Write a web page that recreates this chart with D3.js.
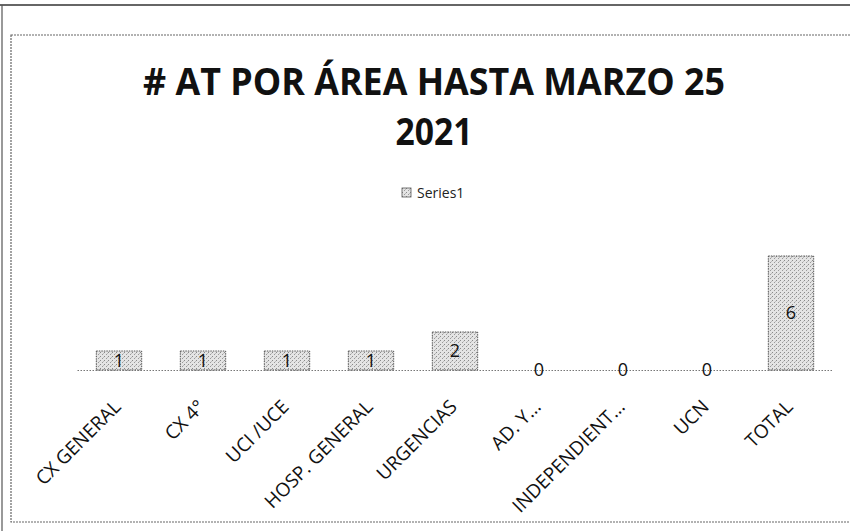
<!DOCTYPE html>
<html>
<head>
<meta charset="utf-8">
<title># AT por área hasta marzo 25 2021</title>
<style>
  body { margin: 0; background: #fff; }
  svg { display: block; }
  .title { font-family: "Open Sans", sans-serif; font-weight: 700; fill: #111; }
  .lbl { font-family: "Open Sans", sans-serif; font-size: 18px; fill: #111; }
  .cat { font-family: "Open Sans", sans-serif; font-size: 19px; fill: #111; }
  .legend { font-family: "Open Sans", sans-serif; font-size: 14px; fill: #222; }
</style>
</head>
<body>
<script src="https://cdnjs.cloudflare.com/ajax/libs/d3/7.8.5/d3.min.js"></script>
<script>
// data
var categories = ["CX GENERAL", "CX 4°", "UCI /UCE", "HOSP. GENERAL", "URGENCIAS",
                  "AD. Y...", "INDEPENDIENT...", "UCN", "TOTAL"];
var values = [1, 1, 1, 1, 2, 0, 0, 0, 6];
var seriesName = "Series1";
var titleLines = ["# AT POR ÁREA HASTA MARZO 25", "2021"];

var W = 850, H = 531;

var svg = d3.select("body").append("svg")
    .attr("width", W)
    .attr("height", H);

// stippled gray fill like the scan
var defs = svg.append("defs");
var pat = defs.append("pattern")
    .attr("id", "stip")
    .attr("width", 4).attr("height", 4)
    .attr("patternUnits", "userSpaceOnUse");
pat.append("rect").attr("width", 4).attr("height", 4).attr("fill", "#e4e4e4");
pat.append("rect").attr("x", 0).attr("y", 0).attr("width", 1).attr("height", 1).attr("fill", "#8a8a8a");
pat.append("rect").attr("x", 2).attr("y", 2).attr("width", 1).attr("height", 1).attr("fill", "#9a9a9a");
pat.append("rect").attr("x", 3).attr("y", 1).attr("width", 1).attr("height", 1).attr("fill", "#bcbcbc");

// page / chart frames
svg.append("line").attr("x1", 0).attr("x2", W).attr("y1", 5).attr("y2", 5)
    .attr("stroke", "#333").attr("stroke-width", 1.5);
svg.append("line").attr("x1", 2).attr("x2", 2).attr("y1", 5).attr("y2", H)
    .attr("stroke", "#555").attr("stroke-width", 1.2);
svg.append("rect")
    .attr("x", 11).attr("y", 35).attr("width", W - 10).attr("height", 487)
    .attr("fill", "none")
    .attr("stroke", "#666").attr("stroke-width", 1.2)
    .attr("stroke-dasharray", "2,1");

// title
var cx = 434;
svg.append("text").attr("class", "title")
    .attr("x", cx).attr("y", 95)
    .attr("text-anchor", "middle")
    .attr("font-size", 38)
    .attr("textLength", 582).attr("lengthAdjust", "spacingAndGlyphs")
    .text(titleLines[0]);
svg.append("text").attr("class", "title")
    .attr("x", cx).attr("y", 145)
    .attr("text-anchor", "middle")
    .attr("font-size", 38)
    .attr("textLength", 77).attr("lengthAdjust", "spacingAndGlyphs")
    .text(titleLines[1]);

// legend
var lg = svg.append("g").attr("transform", "translate(402,188)");
lg.append("rect").attr("width", 9).attr("height", 9)
    .attr("fill", "url(#stip)").attr("stroke", "#555").attr("stroke-width", 0.8);
lg.append("text").attr("class", "legend")
    .attr("x", 15).attr("y", 9.5)
    .text(seriesName);

// scales
var x = d3.scaleBand()
    .domain(categories)
    .range([77, 833])
    .paddingInner(0.46)
    .paddingOuter(0.23);
var y = d3.scaleLinear()
    .domain([0, 6])
    .range([370, 256]);

// bars
svg.selectAll(".bar")
    .data(values)
  .enter().append("rect")
    .attr("class", "bar")
    .attr("x", function(d, i) { return x(categories[i]); })
    .attr("width", x.bandwidth())
    .attr("y", function(d) { return y(d); })
    .attr("height", function(d) { return y(0) - y(d); })
    .attr("fill", "url(#stip)")
    .attr("stroke", "#555")
    .attr("stroke-width", 1)
    .attr("stroke-dasharray", "1.5,1");

// category axis (dotted line, no ticks)
var xAxis = svg.append("g")
    .attr("transform", "translate(0," + y(0) + ")")
    .call(d3.axisBottom(x).tickSize(0).tickFormat(""));
xAxis.select(".domain")
    .attr("stroke", "#777")
    .attr("stroke-dasharray", "1.5,1.5");

// rotated category labels
svg.selectAll(".cat")
    .data(categories)
  .enter().append("text")
    .attr("class", "cat")
    .attr("text-anchor", "end")
    .attr("transform", function(d) {
      return "translate(" + (x(d) + x.bandwidth() / 2 + 3) + "," + (y(0) + 38) + ") rotate(-45)";
    })
    .text(function(d) { return d; });

// value labels, centred in the bars
svg.selectAll(".lbl")
    .data(values)
  .enter().append("text")
    .attr("class", "lbl")
    .attr("x", function(d, i) { return x(categories[i]) + x.bandwidth() / 2; })
    .attr("y", function(d) { return y(d / 2); })
    .attr("dy", "0.36em")
    .attr("text-anchor", "middle")
    .text(function(d) { return d; });
</script>
</body>
</html>
